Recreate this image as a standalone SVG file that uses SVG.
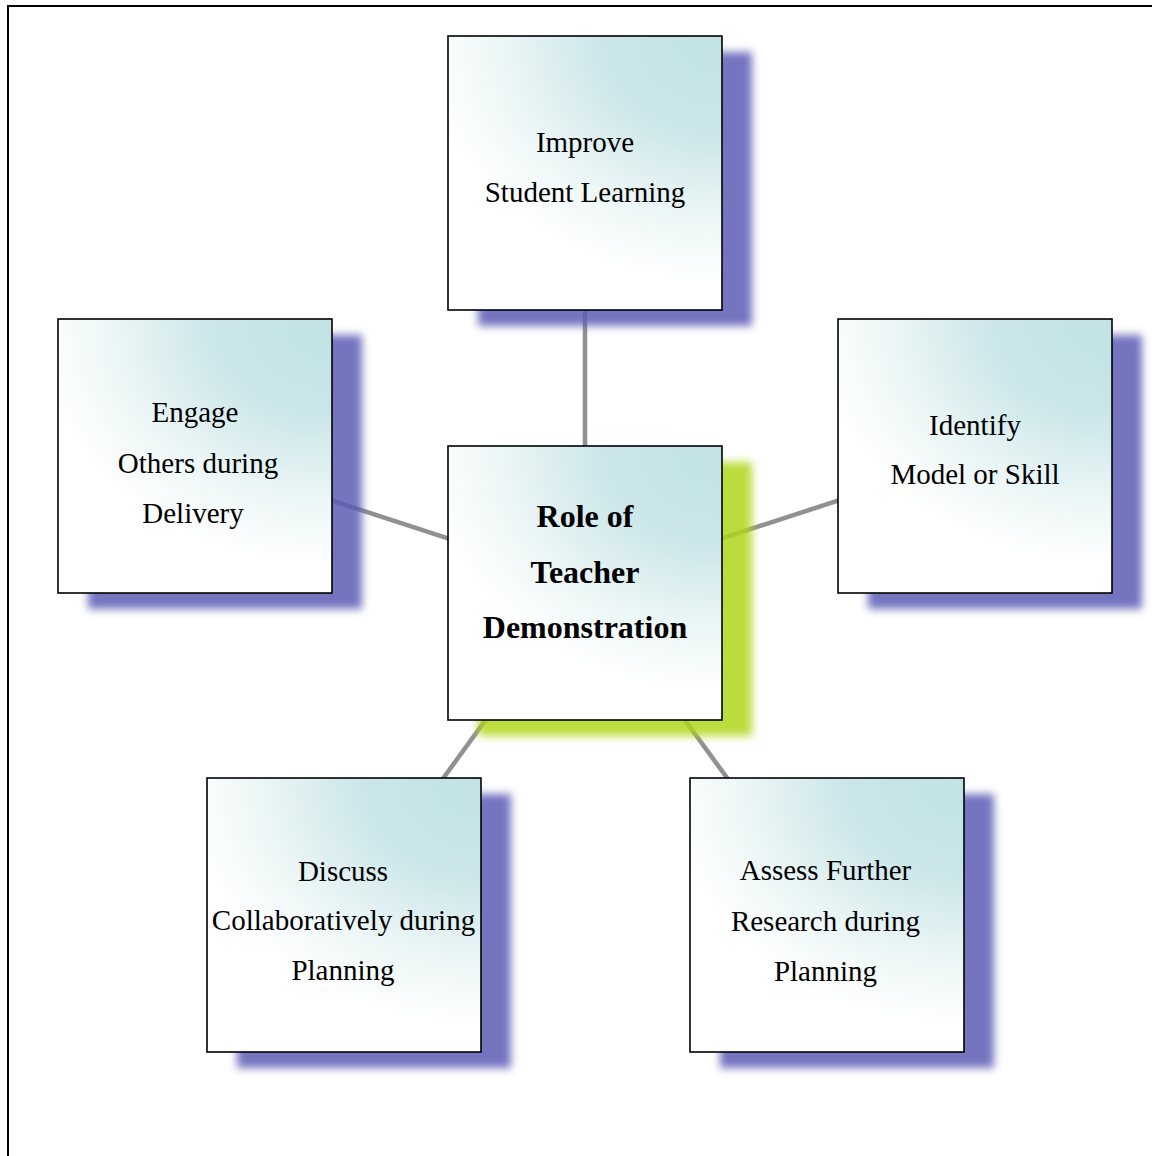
<svg xmlns="http://www.w3.org/2000/svg" width="1152" height="1156" viewBox="0 0 1152 1156">
<style>
.box{fill:url(#boxGrad);stroke:#000;stroke-width:1.6}
.shadow{fill:#5c5cb5;opacity:0.85;filter:url(#blur)}
.shadowC{fill:#b0d61a;opacity:0.85;filter:url(#blur)}
.conn{stroke:#919191;stroke-width:4.5;fill:none}
.t{font-family:"Liberation Serif","Times New Roman",serif;font-size:29px;fill:#000;text-anchor:middle}
.tb{font-family:"Liberation Serif","Times New Roman",serif;font-size:32px;font-weight:bold;fill:#000;text-anchor:middle}
</style>
<defs>
<radialGradient id="boxGrad" cx="1" cy="0" r="1" fx="1" fy="0" gradientTransform="translate(1,0) scale(1.15,0.95) translate(-1,0)">
<stop offset="0" stop-color="#c1e2e5"/>
<stop offset="0.35" stop-color="#c9e5e8"/>
<stop offset="0.72" stop-color="#eef7f7"/>
<stop offset="0.95" stop-color="#ffffff"/>
</radialGradient>
<filter id="blur" x="-10%" y="-10%" width="120%" height="120%">
<feGaussianBlur stdDeviation="4"/>
</filter>
</defs>
<rect x="0" y="0" width="1152" height="1156" fill="#fff"/>
<g id="frame">
<line x1="7" y1="6" x2="1152" y2="6" stroke="#000" stroke-width="2"/>
<line x1="8" y1="5" x2="8" y2="1156" stroke="#000" stroke-width="2"/>
</g>
<g id="connectors">
<line class="conn" x1="585" y1="173" x2="585" y2="583"/>
<line class="conn" x1="195" y1="456" x2="585" y2="583"/>
<line class="conn" x1="975" y1="456" x2="585" y2="583"/>
<line class="conn" x1="344" y1="915" x2="585" y2="583"/>
<line class="conn" x1="827" y1="915" x2="585" y2="583"/>
</g>
<g id="shadows">
<rect class="shadow" x="478" y="52" width="274" height="274"/>
<rect class="shadow" x="88" y="335" width="274" height="274"/>
<rect class="shadow" x="868" y="335" width="274" height="274"/>
<rect class="shadowC" x="478" y="462" width="274" height="274"/>
<rect class="shadow" x="237" y="794" width="274" height="274"/>
<rect class="shadow" x="720" y="794" width="274" height="274"/>
</g>
<g id="node-top">
<rect class="box" x="448" y="36" width="274" height="274"/>
<text class="t" x="585" y="152">Improve</text>
<text class="t" x="585" y="202">Student Learning</text>
</g>
<g id="node-left">
<rect class="box" x="58" y="319" width="274" height="274"/>
<text class="t" x="195" y="422">Engage</text>
<text class="t" x="198" y="473">Others during</text>
<text class="t" x="193" y="523">Delivery</text>
</g>
<g id="node-right">
<rect class="box" x="838" y="319" width="274" height="274"/>
<text class="t" x="975" y="435">Identify</text>
<text class="t" x="975" y="484">Model or Skill</text>
</g>
<g id="node-center">
<rect class="box" x="448" y="446" width="274" height="274"/>
<text class="tb" x="585" y="527">Role of</text>
<text class="tb" x="585" y="583">Teacher</text>
<text class="tb" x="585" y="638">Demonstration</text>
</g>
<g id="node-bottom-left">
<rect class="box" x="207" y="778" width="274" height="274"/>
<text class="t" x="343" y="881">Discuss</text>
<text class="t" x="343.5" y="930">Collaboratively during</text>
<text class="t" x="343" y="980">Planning</text>
</g>
<g id="node-bottom-right">
<rect class="box" x="690" y="778" width="274" height="274"/>
<text class="t" x="825.5" y="880">Assess Further</text>
<text class="t" x="825.5" y="931">Research during</text>
<text class="t" x="825.5" y="981">Planning</text>
</g>
</svg>
